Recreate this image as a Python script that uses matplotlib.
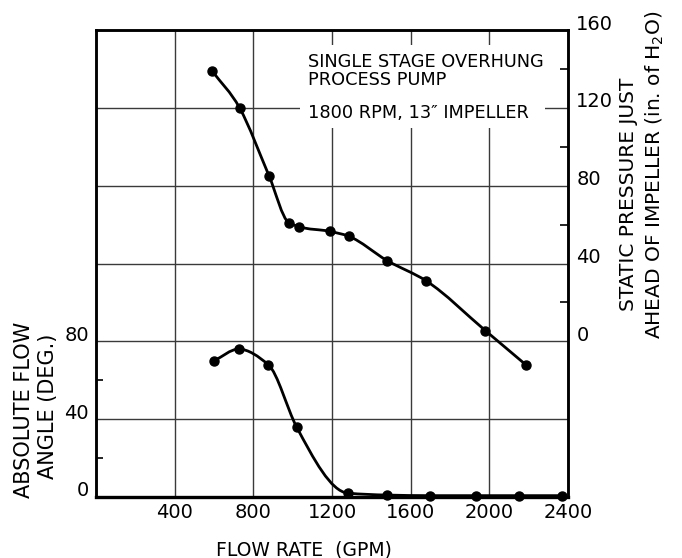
import numpy as np
import matplotlib
matplotlib.use("Agg")
import matplotlib.pyplot as plt
from matplotlib.path import Path
from matplotlib.patches import PathPatch, Rectangle
from matplotlib.transforms import ScaledTranslation

plt.rcParams['font.family'] = ['DejaVu Sans']

# Absolute flow angle (deg) vs flow rate (GPM)
angle_flow = [600, 725, 876, 1020, 1280, 1480, 1700, 1930, 2150, 2370]
angle_deg = [70, 76, 68, 36, 2, 1, 0.7, 0.7, 0.7, 0.7]

# Static pressure just ahead of impeller (in. of H2O) vs flow rate (GPM)
press_flow = [590, 730, 880, 980, 1030, 1190, 1285, 1480, 1680, 1980, 2185]
press_inh2o = [139, 120, 85, 61, 59, 56.5, 54, 41.5, 31, 5.5, -12]

x_ticks = [400, 800, 1200, 1600, 2000, 2400]
left_ticks = [0, 40, 80]
right_ticks = [0, 40, 80, 120, 160]

LW = 2.0
MS = 6.5


def node_slopes(x, y):
    """Tangents for a smooth curve: weighted mean of the adjacent chords,
    harmonic mean where the chords differ strongly, flat at extrema."""
    x = np.asarray(x, float)
    y = np.asarray(y, float)
    h = np.diff(x)
    d = np.diff(y) / h
    m = np.zeros_like(y)
    for k in range(1, len(x) - 1):
        a, b = d[k - 1], d[k]
        if a * b <= 0:
            m[k] = 0.0
        elif max(abs(a), abs(b)) / min(abs(a), abs(b)) > 3:
            w1 = 2 * h[k] + h[k - 1]
            w2 = h[k] + 2 * h[k - 1]
            m[k] = (w1 + w2) / (w1 / a + w2 / b)
        else:
            m[k] = (h[k] * a + h[k - 1] * b) / (h[k - 1] + h[k])
    m[0] = d[0]
    m[-1] = d[-1]
    return m


def smooth_path(x, y):
    """Cubic Hermite curve through the points, as Bezier segments."""
    x = np.asarray(x, float)
    y = np.asarray(y, float)
    m = node_slopes(x, y)
    verts = [(x[0], y[0])]
    codes = [Path.MOVETO]
    for k in range(len(x) - 1):
        h = x[k + 1] - x[k]
        verts += [(x[k] + h / 3, y[k] + m[k] * h / 3),
                  (x[k + 1] - h / 3, y[k + 1] - m[k + 1] * h / 3),
                  (x[k + 1], y[k + 1])]
        codes += [Path.CURVE4] * 3
    return Path(verts, codes)


fig = plt.figure(figsize=(6.82, 5.58), dpi=100)
W, H = 682, 558
x0, x1, ytop, ybot = 96, 568, 30, 497
ax = fig.add_axes([x0 / W, (H - ybot) / H, (x1 - x0) / W, (ybot - ytop) / H])
ax.set_xlim(0, 2400)
ax.set_ylim(0, 240)

ax2 = ax.twinx()
ax2.set_ylim(-80, 160)

# grid
grid_y = [0, 40, 80, 120, 160, 200, 240]
ax.set_xticks(x_ticks)
ax.set_xticklabels([str(v) for v in x_ticks])
ax.set_yticks(grid_y)
ax.set_yticklabels([str(v) if v in left_ticks else "" for v in grid_y])
ax.set_yticks([20, 60], minor=True)
ax.set_axisbelow(True)
ax.grid(True, which='major', color='#3a3a3a', linewidth=1.0)
ax.tick_params(axis='x', length=0, pad=4, labelsize=14)
ax.tick_params(axis='y', which='major', length=0, pad=5, labelsize=14)
ax.tick_params(axis='y', which='minor', direction='in', length=5, width=1.2)

ax2.set_yticks(right_ticks)
ax2.set_yticks([20, 60, 100, 140], minor=True)
ax2.tick_params(axis='y', which='major', length=0, pad=6, labelsize=14)
ax2.tick_params(axis='y', which='minor', direction='in', length=6, width=1.2)

for a in (ax, ax2):
    for s in a.spines.values():
        s.set_linewidth(1.8)
        s.set_color('black')
ax.spines['bottom'].set_linewidth(2.4)

shift = ScaledTranslation(0, 0.08, fig.dpi_scale_trans)
for lbl in ax.get_yticklabels() + ax2.get_yticklabels():
    lbl.set_transform(lbl.get_transform() + shift)

# white panel behind the note
ax.add_patch(Rectangle((0.432, 0.79), 0.519, 0.178, transform=ax.transAxes,
                       facecolor='white', edgecolor='none', zorder=1))
note_kw = dict(transform=ax.transAxes, fontsize=12.8, ha='left', va='baseline', zorder=3)
ax.text(0.449, 0.921, "SINGLE STAGE OVERHUNG", **note_kw)
ax.text(0.449, 0.882, "PROCESS PUMP", **note_kw)
ax.text(0.449, 0.812, "1800 RPM, 13\u2033 IMPELLER", **note_kw)

# curves
ax.add_patch(PathPatch(smooth_path(angle_flow, angle_deg), facecolor='none',
                       edgecolor='black', linewidth=LW, zorder=4, clip_on=False))
ax.plot(angle_flow, angle_deg, 'o', color='black', markersize=MS, zorder=5, clip_on=False)
ax2.add_patch(PathPatch(smooth_path(press_flow, press_inh2o), facecolor='none',
                        edgecolor='black', linewidth=LW, zorder=4))
ax2.plot(press_flow, press_inh2o, 'o', color='black', markersize=MS, zorder=5)

# axis titles
fig.text(304 / W, (H - 555) / H, "FLOW RATE  (GPM)", fontsize=13.5,
         ha='center', va='baseline')
fig.text(24 / W, (H - 410) / H, "ABSOLUTE FLOW", fontsize=15, rotation=90,
         ha='center', va='center')
fig.text(48 / W, (H - 406) / H, "ANGLE (DEG.)", fontsize=15, rotation=90,
         ha='center', va='center')
fig.text(628 / W, (H - 194) / H, "STATIC PRESSURE JUST", fontsize=14.5,
         rotation=90, ha='center', va='center')
fig.text(655 / W, (H - 175) / H, "AHEAD OF IMPELLER (in. of H$_2$O)", fontsize=14.5,
         rotation=90, ha='center', va='center')

fig.savefig("out.png", dpi=100)
